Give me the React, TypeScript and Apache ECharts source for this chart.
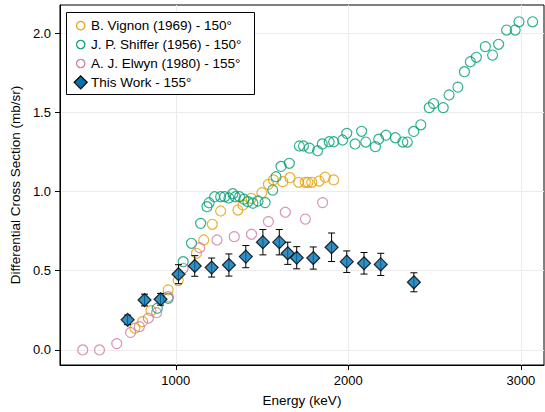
import React, { useEffect, useRef } from "react";
import * as echarts from "echarts";

// B. Vignon (1969) - 150°
const vignonEnergy = [763, 808, 856, 956, 1014, 1120, 1162, 1212, 1260, 1360, 1389, 1437, 1499, 1537, 1566, 1620, 1662, 1712, 1751, 1766, 1788, 1831, 1866, 1915];
const vignonValue = [0.137, 0.179, 0.248, 0.379, 0.438, 0.61, 0.694, 0.793, 0.877, 0.883, 0.915, 0.957, 0.992, 1.045, 1.073, 1.062, 1.087, 1.058, 1.058, 1.058, 1.058, 1.066, 1.09, 1.073];

// J. P. Shiffer (1956) - 150°
const shifferEnergy = [893, 956, 1043, 1091, 1144, 1181, 1193, 1225, 1260, 1283, 1308, 1331, 1345, 1370, 1395, 1418, 1447, 1477, 1518, 1562, 1581, 1610, 1658, 1716, 1740, 1774, 1822, 1849, 1889, 1915, 1967, 1991, 2039, 2077, 2101, 2157, 2176, 2218, 2273, 2316, 2342, 2379, 2420, 2469, 2494, 2550, 2584, 2635, 2673, 2707, 2742, 2794, 2836, 2871, 2917, 2967, 2989, 3068];
const shifferValue = [0.263, 0.326, 0.557, 0.673, 0.799, 0.904, 0.929, 0.967, 0.967, 0.967, 0.959, 0.986, 0.967, 0.967, 0.951, 0.936, 0.926, 0.94, 0.93, 1.009, 1.093, 1.158, 1.178, 1.287, 1.287, 1.274, 1.257, 1.3, 1.314, 1.314, 1.325, 1.367, 1.3, 1.38, 1.312, 1.283, 1.33, 1.355, 1.339, 1.312, 1.312, 1.379, 1.421, 1.529, 1.555, 1.529, 1.609, 1.659, 1.756, 1.819, 1.847, 1.914, 1.861, 1.929, 2.019, 2.019, 2.071, 2.071];

// A. J. Elwyn (1980) - 155°
const elwynEnergy = [461, 558, 658, 738, 789, 841, 889, 956, 1043, 1139, 1239, 1339, 1439, 1537, 1635, 1751, 1851];
const elwynValue = [0.0, 0.0, 0.04, 0.11, 0.147, 0.2, 0.235, 0.336, 0.515, 0.645, 0.694, 0.715, 0.73, 0.81, 0.869, 0.826, 0.93];

// This Work - 155°, with symmetric uncertainties
const thisWorkEnergy = [721, 819, 912, 1016, 1110, 1208, 1308, 1406, 1505, 1600, 1649, 1701, 1797, 1903, 1991, 2091, 2188, 2380];
const thisWorkValue = [0.19, 0.315, 0.32, 0.478, 0.53, 0.52, 0.536, 0.589, 0.68, 0.68, 0.61, 0.582, 0.58, 0.648, 0.557, 0.547, 0.54, 0.427];
const thisWorkError = [0.03, 0.037, 0.037, 0.06, 0.065, 0.06, 0.07, 0.07, 0.08, 0.08, 0.07, 0.07, 0.07, 0.09, 0.068, 0.068, 0.07, 0.06];

const xTicks = [1000, 2000, 3000];
const yTicks = [0, 0.5, 1.0, 1.5, 2.0];

const legendLabels = [
  "B. Vignon (1969) - 150°",
  "J. P. Shiffer (1956) - 150°",
  "A. J. Elwyn (1980) - 155°",
  "This Work - 155°",
];

const ORANGE = "#E69F00";
const GREEN = "#009E73";
const PINK = "#CC79A7";
const BLUE = "#0072B2";
const FONT = "Liberation Sans, Arial, Helvetica, sans-serif";

const pairs = (xs: number[], ys: number[]) => xs.map((x, i) => [x, ys[i]]);

function openCircles(name: string, color: string, xs: number[], ys: number[]) {
  return {
    name,
    type: "scatter",
    data: pairs(xs, ys),
    symbol: "circle",
    symbolSize: 10,
    itemStyle: { color: "rgba(0,0,0,0)", borderColor: color, borderWidth: 1.2 },
    emphasis: { disabled: true },
  };
}

// Boxed legend in the upper-left corner of the plot area
function buildLegend() {
  const left = 66.5;
  const top = 12.5;
  const rows = [25.7, 44.5, 63.5, 82.3];
  const mx = 80.7;
  const tx = 91;
  const Z = 100;
  const elements: any[] = [
    {
      type: "rect",
      z: Z,
      shape: { x: left, y: top, width: 188, height: 82 },
      style: { fill: "#fff", stroke: "#000", lineWidth: 1 },
    },
  ];
  const colors = [ORANGE, GREEN, PINK];
  colors.forEach((c, i) => {
    elements.push({
      type: "circle",
      z: Z + 1,
      shape: { cx: mx, cy: rows[i], r: 4.2 },
      style: { fill: "none", stroke: c, lineWidth: 1.2 },
    });
  });
  const d = 6.5;
  const cy = rows[3];
  elements.push({
    type: "polygon",
    z: Z + 1,
    shape: { points: [[mx, cy - d], [mx + d, cy], [mx, cy + d], [mx - d, cy]] },
    style: { fill: BLUE, stroke: "#000", lineWidth: 1.2 },
  });
  legendLabels.forEach((t, i) => {
    elements.push({
      type: "text",
      z: Z + 1,
      x: tx,
      y: rows[i],
      style: { text: t, fontSize: 13.5, fontFamily: FONT, fill: "#000", verticalAlign: "middle", align: "left" },
    });
  });
  return elements;
}

export default function App() {
  const ref = useRef<HTMLDivElement>(null);

  useEffect(() => {
    if (!ref.current) return;
    const chart = echarts.init(ref.current, undefined, { renderer: "svg" });

    const errorData = thisWorkEnergy.map((x, i) => [x, thisWorkValue[i] - thisWorkError[i], thisWorkValue[i] + thisWorkError[i]]);

    chart.setOption({
      animation: false,
      backgroundColor: "#fff",
      textStyle: { fontFamily: FONT },
      grid: {
        left: 58,
        top: 5,
        width: 486,
        height: 360,
        show: true,
        borderColor: "#000",
        borderWidth: 1,
        backgroundColor: "transparent",
        containLabel: false,
      },
      xAxis: {
        type: "value",
        min: 329,
        max: 3134,
        name: "Energy (keV)",
        nameLocation: "middle",
        nameGap: 28,
        nameTextStyle: { fontSize: 13.5, color: "#000", fontFamily: FONT },
        axisLine: { show: true, onZero: false, lineStyle: { color: "#000", width: 1 } },
        axisTick: { show: true, customValues: xTicks, length: 5, lineStyle: { color: "#000" } },
        axisLabel: {
          customValues: xTicks,
          fontSize: 13,
          color: "#000",
          margin: 9,
          fontFamily: FONT,
          formatter: (v: number) => String(Math.round(v)),
        },
        splitLine: { show: true, lineStyle: { color: "#ebebeb", width: 1 } },
      },
      yAxis: {
        type: "value",
        min: -0.095,
        max: 2.177,
        name: "Differential Cross Section (mb/sr)",
        nameLocation: "middle",
        nameGap: 30,
        nameTextStyle: { fontSize: 13.5, color: "#000", fontFamily: FONT },
        axisLine: { show: true, onZero: false, lineStyle: { color: "#000", width: 1 } },
        axisTick: { show: true, customValues: yTicks, length: 5, lineStyle: { color: "#000" } },
        axisLabel: {
          customValues: yTicks,
          fontSize: 13,
          color: "#000",
          margin: 9,
          fontFamily: FONT,
          formatter: (v: number) => v.toFixed(1),
        },
        splitLine: { show: true, lineStyle: { color: "#ebebeb", width: 1 } },
      },
      graphic: { elements: buildLegend() },
      series: [
        openCircles(legendLabels[0], ORANGE, vignonEnergy, vignonValue),
        openCircles(legendLabels[1], GREEN, shifferEnergy, shifferValue),
        openCircles(legendLabels[2], PINK, elwynEnergy, elwynValue),
        {
          name: "error",
          type: "custom",
          data: errorData,
          encode: { x: 0, y: [1, 2] },
          z: 3,
          renderItem: (_params: any, api: any) => {
            const x = api.value(0);
            const lo = api.coord([x, api.value(1)]);
            const hi = api.coord([x, api.value(2)]);
            const w = 3.5;
            const st = { stroke: "#000", lineWidth: 1 };
            return {
              type: "group",
              children: [
                { type: "line", shape: { x1: lo[0], y1: lo[1], x2: hi[0], y2: hi[1] }, style: st },
                { type: "line", shape: { x1: lo[0] - w, y1: lo[1], x2: lo[0] + w, y2: lo[1] }, style: st },
                { type: "line", shape: { x1: hi[0] - w, y1: hi[1], x2: hi[0] + w, y2: hi[1] }, style: st },
              ],
            };
          },
        },
        {
          name: legendLabels[3],
          type: "scatter",
          z: 4,
          data: pairs(thisWorkEnergy, thisWorkValue),
          symbol: "diamond",
          symbolSize: 13,
          itemStyle: { color: BLUE, borderColor: "#000", borderWidth: 1.2 },
          emphasis: { disabled: true },
        },
      ],
    });

    return () => chart.dispose();
  }, []);

  return <div ref={ref} style={{ width: 545, height: 412, position: "absolute", left: 0, top: 0 }} />;
}
